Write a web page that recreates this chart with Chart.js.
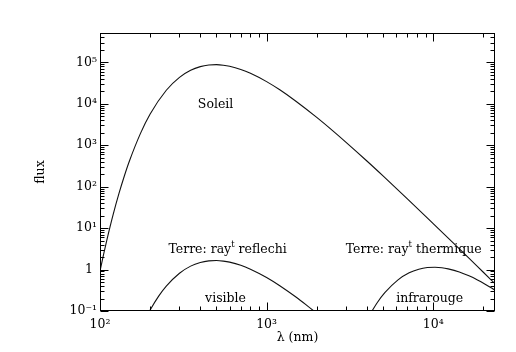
<!DOCTYPE html>
<html>
<head>
<meta charset="utf-8">
<script src="https://cdn.jsdelivr.net/npm/chart.js@4.4.1/dist/chart.umd.min.js"></script>
<style>
  html, body { margin: 0; padding: 0; background: #fff; }
</style>
</head>
<body>
<canvas id="chart" width="516" height="352"></canvas>
<script>
// Soleil
const sunLambda = [100, 105, 110, 120, 130, 140, 150, 175, 200, 250, 300, 350, 400, 450, 500, 550, 600, 700, 800, 1000, 1200, 1500, 2000, 2500, 3000, 4000, 5000, 7000, 10000, 15000, 20000, 23500];
const sunFlux = [0.917, 2.30, 5.23, 21.5, 68.7, 181, 410, 1930, 5660, 21200, 43400, 64200, 78700, 86200, 87800, 85300, 80300, 67300, 54300, 34200, 21700, 11500, 4680, 2215, 1170, 416, 182, 51.0, 12.9, 2.67, 0.861, 0.456];

// Terre: rayonnement reflechi
const reflLambda = [190, 200, 225, 250, 300, 350, 400, 450, 500, 550, 600, 700, 800, 1000, 1200, 1500, 1750, 2000];
const reflFlux = [0.072, 0.106, 0.229, 0.399, 0.816, 1.21, 1.48, 1.62, 1.65, 1.60, 1.51, 1.27, 1.02, 0.643, 0.407, 0.217, 0.135, 0.088];

// Terre: rayonnement thermique
const thermLambda = [4100, 4612, 5125, 6150, 7175, 8200, 9225, 10250, 11275, 12300, 14350, 16400, 18450, 20500, 22550, 24600];
const thermFlux = [0.0735, 0.158, 0.276, 0.564, 0.834, 1.02, 1.12, 1.14, 1.11, 1.04, 0.875, 0.706, 0.561, 0.444, 0.353, 0.282];

const xTickValues = [100, 1000, 10000];
const xTickLabels = ['10²', '10³', '10⁴'];
const yTickValues = [0.1, 1, 10, 100, 1000, 10000, 100000];
const yTickLabels = ['10⁻¹', '1 ', '10¹', '10²', '10³', '10⁴', '10⁵'];

const notes = [
  { parts: ['Soleil'], x: 494, y: 9500 },
  { parts: ['Terre: ray', '^t', ' reflechi'], x: 583, y: 3.05 },
  { parts: ['Terre: ray', '^t', ' thermique'], x: 7640, y: 3.05 },
  { parts: ['visible'], x: 567, y: 0.199 },
  { parts: ['infrarouge'], x: 9530, y: 0.199 }
];

const FONT = '"DejaVu Serif", "Liberation Serif", serif';

function minorTicks(min, max) {
  const out = [];
  for (let d = Math.pow(10, Math.floor(Math.log10(min))); d <= max; d *= 10) {
    for (let k = 1; k <= 9; k++) {
      const v = k * d;
      if (v >= min * 0.999 && v <= max * 1.001) out.push({ v: v, major: k === 1 });
    }
  }
  return out;
}

const frameAndTicks = {
  id: 'frameAndTicks',
  afterDatasetsDraw(chart) {
    const { ctx, chartArea: a, scales } = chart;
    const x = scales.x, y = scales.y;
    const L = Math.round(a.left) + 0.5, R = Math.round(a.right) - 0.5;
    const T = Math.round(a.top) + 0.5, B = Math.round(a.bottom) - 0.5;
    ctx.save();
    ctx.strokeStyle = '#000';
    ctx.lineWidth = 1;
    ctx.strokeRect(L, T, R - L, B - T);
    ctx.beginPath();
    minorTicks(x.min, x.max).forEach(t => {
      const px = Math.round(x.getPixelForValue(t.v)) + 0.5;
      const len = t.major ? 8 : 4;
      ctx.moveTo(px, B); ctx.lineTo(px, B - len);
      ctx.moveTo(px, T); ctx.lineTo(px, T + len);
    });
    minorTicks(y.min, y.max).forEach(t => {
      const py = Math.round(y.getPixelForValue(t.v)) + 0.5;
      const len = t.major ? 8 : 4;
      ctx.moveTo(L, py); ctx.lineTo(L + len, py);
      ctx.moveTo(R, py); ctx.lineTo(R - len, py);
    });
    ctx.stroke();

    // labels on the curves
    ctx.fillStyle = '#000';
    ctx.textBaseline = 'middle';
    notes.forEach(n => {
      const segs = n.parts.map(p => {
        const sup = p.startsWith('^');
        const txt = sup ? p.slice(1) : p;
        ctx.font = (sup ? 8.5 : 12.5) + 'px ' + FONT;
        return { txt, sup, w: ctx.measureText(txt).width };
      });
      const total = segs.reduce((s, g) => s + g.w, 0);
      let cx = x.getPixelForValue(n.x) - total / 2;
      const cy = y.getPixelForValue(n.y);
      ctx.textAlign = 'left';
      segs.forEach(g => {
        ctx.font = (g.sup ? 8.5 : 12.5) + 'px ' + FONT;
        ctx.fillText(g.txt, cx, g.sup ? cy - 5 : cy);
        cx += g.w;
      });
    });
    ctx.restore();
  }
};

function line(xs, ys) {
  return {
    data: xs.map((v, i) => ({ x: v, y: ys[i] })),
    borderColor: '#111',
    borderWidth: 1.1,
    pointRadius: 0,
    showLine: true,
    fill: false,
    cubicInterpolationMode: 'monotone'
  };
}

new Chart(document.getElementById('chart'), {
  type: 'scatter',
  data: {
    datasets: [
      line(sunLambda, sunFlux),
      line(reflLambda, reflFlux),
      line(thermLambda, thermFlux)
    ]
  },
  options: {
    responsive: false,
    animation: false,
    layout: { padding: { left: 0, top: 33, right: 21, bottom: 0 } },
    plugins: { legend: { display: false }, tooltip: { enabled: false } },
    scales: {
      x: {
        type: 'logarithmic',
        min: 100,
        max: 23500,
        grid: { display: false, drawTicks: false },
        border: { display: false },
        afterBuildTicks: s => { s.ticks = xTickValues.map(v => ({ value: v })); },
        afterFit: s => { s.height = 41; },
        ticks: {
          autoSkip: false,
          maxRotation: 0,
          padding: 6,
          color: '#000',
          font: { family: FONT, size: 12.5 },
          callback: (v, i) => xTickLabels[i]
        },
        title: {
          display: true,
          text: 'λ (nm)',
          color: '#000',
          font: { family: FONT, size: 12.5 },
          padding: 7
        }
      },
      y: {
        type: 'logarithmic',
        min: 0.1,
        max: 510000,
        grid: { display: false, drawTicks: false },
        border: { display: false },
        afterBuildTicks: s => { s.ticks = yTickValues.map(v => ({ value: v })); },
        afterFit: s => { s.width = 100; },
        ticks: {
          autoSkip: false,
          padding: 3,
          color: '#000',
          font: { family: FONT, size: 12.5 },
          callback: (v, i) => yTickLabels[i]
        },
        title: {
          display: true,
          text: 'flux',
          color: '#000',
          font: { family: FONT, size: 12.5 },
          padding: 33
        }
      }
    }
  },
  plugins: [frameAndTicks]
});
</script>
</body>
</html>
